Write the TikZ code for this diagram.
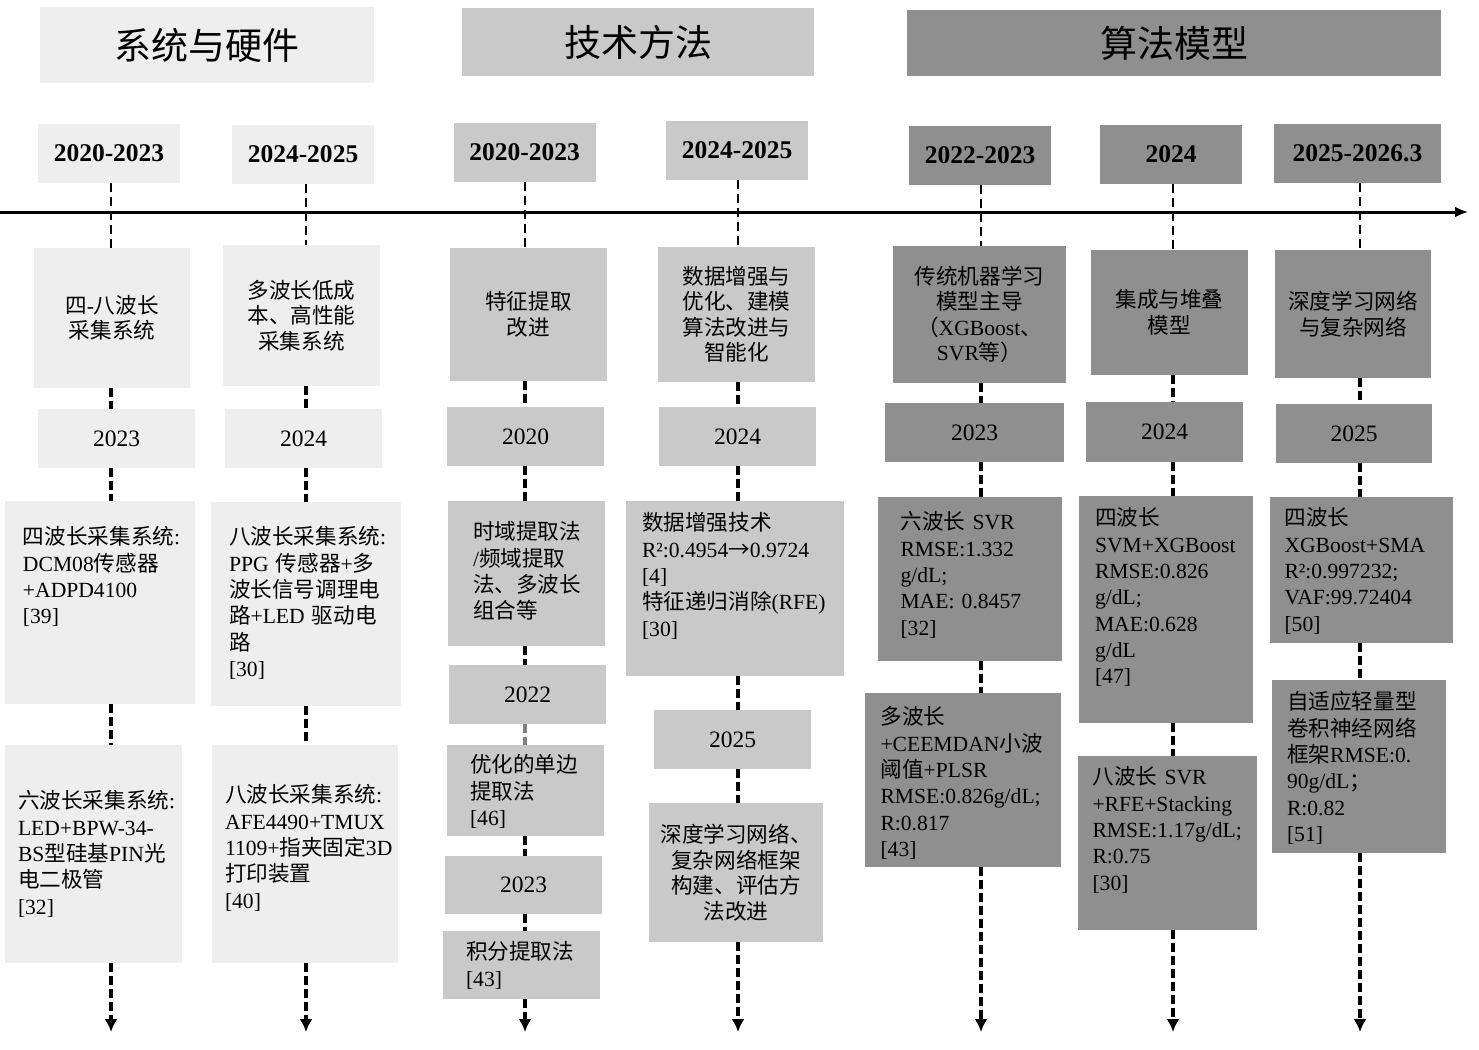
\documentclass[tikz,border=0pt]{standalone}
\usepackage{fontspec}
\setmainfont{Liberation Serif}
\newfontfamily\latfont{Liberation Serif}
\newfontfamily\cjkfont{Noto Sans CJK SC}
\usepackage{xcolor}
\usepackage{tikz}
\usetikzlibrary{arrows.meta,calc}

\definecolor{sysgray}{RGB}{238,238,238}
\definecolor{methgray}{RGB}{201,201,201}
\definecolor{algogray}{RGB}{143,143,143}

% Chinese characters are set in the CJK font, the rest in Liberation Serif
\XeTeXinterchartokenstate=1
\newXeTeXintercharclass\cjkclass
\newcount\charno
\charno=0
\loop\ifnum\charno<"3000 \XeTeXcharclass\charno=0 \advance\charno by 1 \repeat
\charno="3000
\loop\ifnum\charno<"A000 \XeTeXcharclass\charno=\cjkclass \advance\charno by 1 \repeat
\charno="FF00
\loop\ifnum\charno<"FFF0 \XeTeXcharclass\charno=\cjkclass \advance\charno by 1 \repeat
\XeTeXcharclass"2192=\cjkclass
\XeTeXinterchartoks 0 \cjkclass = {\cjkfont}
\XeTeXinterchartoks 4095 \cjkclass = {\cjkfont}
\XeTeXinterchartoks \cjkclass 0 = {\latfont}
\XeTeXinterchartoks \cjkclass 4095 = {\latfont}
\XeTeXinterchartoks 4095 0 = {\latfont}

\begin{document}
\begin{tikzpicture}[x=1pt,y=-1pt,
  head/.style={rectangle, inner sep=0pt, font=\fontsize{37}{40}\selectfont},
  datebox/.style={rectangle, inner sep=0pt, minimum width=142pt, minimum height=59pt, font=\fontsize{25.5}{28}\selectfont\bfseries},
  yearbox/.style={rectangle, inner sep=0pt, minimum width=157pt, minimum height=59pt, font=\fontsize{23.5}{26}\selectfont},
  topbox/.style={rectangle, inner sep=0pt, align=center, font=\fontsize{21.6}{25.5}\selectfont},
  infobox/.style={rectangle, inner sep=0pt},
  infotext/.style={anchor=base west, inner sep=0pt, text width=190pt, align=left, font=\fontsize{21.6}{26.3}\selectfont},
  timeline/.style={line width=3pt, -{Latex[length=13pt,width=11pt]}},
  guide/.style={line width=1.7pt, dash pattern=on 9pt off 5pt},
  link/.style={line width=3.2pt, dash pattern=on 9pt off 4pt},
  ongoing/.style={link, -{Latex[length=13pt,width=13pt]}}]
\useasboundingbox (0,0) rectangle (1479,1049);

% Category headers
\node[head, fill=sysgray, minimum width=334pt, minimum height=76pt] (sysh) at (207,45) {系统与硬件};
\node[head, fill=methgray, minimum width=352pt, minimum height=68pt] (methh) at (638,42) {技术方法};
\node[head, fill=algogray, minimum width=534pt, minimum height=66pt] (algoh) at (1174,43) {算法模型};

% Periods
\node[datebox, fill=sysgray] (d1) at (109,153.5) {2020-2023};
\node[datebox, fill=sysgray] (d2) at (303,154.5) {2024-2025};
\node[datebox, fill=methgray] (d3) at (524.5,152.5) {2020-2023};
\node[datebox, fill=methgray] (d4) at (737,150) {2024-2025};
\node[datebox, fill=algogray] (d5) at (980,155) {2022-2023};
\node[datebox, fill=algogray] (d6) at (1171,154.5) {2024};
\node[datebox, fill=algogray, minimum width=167pt] (d7) at (1357.5,153.5) {2025-2026.3};

% Time axis
\coordinate (tl0) at (0,212);
\coordinate (tl1) at (1468,212);
\draw[timeline] (tl0) -- (tl1);

% Column ends
\coordinate (e1) at (111,1032);
\coordinate (e2) at (306,1032);
\coordinate (e3) at (525,1032);
\coordinate (e4) at (738,1032);
\coordinate (e5) at (981,1032);
\coordinate (e6) at (1173,1032);
\coordinate (e7) at (1360,1032);

% Topics
\node[topbox, fill=sysgray, minimum width=156pt, minimum height=140pt] (t1) at (112,318) {四-八波长\\采集系统};
\node[topbox, fill=sysgray, minimum width=157pt, minimum height=141pt] (t2) at (301.5,315.5) {多波长低成\\本、高性能\\采集系统};
\node[topbox, fill=methgray, minimum width=157pt, minimum height=133pt] (t3) at (528.5,314.5) {特征提取\\改进};
\node[topbox, fill=methgray, minimum width=157pt, minimum height=135pt] (t4) at (736.5,314.5) {数据增强与\\优化、建模\\算法改进与\\智能化};
\node[topbox, fill=algogray, minimum width=173pt, minimum height=137pt] (t5) at (979.5,314.5) {传统机器学习\\模型主导\\（XGBoost、\\SVR等）};
\node[topbox, fill=algogray, minimum width=157pt, minimum height=125pt] (t6) at (1169.5,312.5) {集成与堆叠\\模型};
\node[topbox, fill=algogray, minimum width=156pt, minimum height=128pt] (t7) at (1353,314) {深度学习网络\\与复杂网络};

% Years
\node[yearbox, fill=sysgray] (y1) at (116.5,438.5) {2023};
\node[yearbox, fill=sysgray] (y2) at (303.5,438.5) {2024};
\node[yearbox, fill=methgray] (y3a) at (525.5,436.5) {2020};
\node[yearbox, fill=methgray] (y3b) at (527.5,694.5) {2022};
\node[yearbox, fill=methgray, minimum height=58pt] (y3c) at (523.5,885) {2023};
\node[yearbox, fill=methgray] (y4a) at (737.5,436.5) {2024};
\node[yearbox, fill=methgray] (y4b) at (732.5,739.5) {2025};
\node[yearbox, fill=algogray, minimum width=179pt] (y5) at (974.5,432.5) {2023};
\node[yearbox, fill=algogray, minimum height=60pt] (y6) at (1164.5,432) {2024};
\node[yearbox, fill=algogray, minimum width=156pt] (y7) at (1354,433.5) {2025};

% System and hardware
\node[infobox, fill=sysgray, minimum width=190pt, minimum height=203pt] (s1a) at (100,602.5) {};
\node[infotext] (s1at) at ($(s1a.north west)+(18,44)$) {四波长采集系统:\\DCM08传感器\\+ADPD4100\\{[39]}};
\node[infobox, fill=sysgray, minimum width=177pt, minimum height=218pt] (s1b) at (93.5,854) {};
\node[infotext] (s1bt) at ($(s1b.north west)+(13,64)$) {六波长采集系统:\\LED+BPW-34-\\BS型硅基PIN光\\电二极管\\{[32]}};
\node[infobox, fill=sysgray, minimum width=190pt, minimum height=204pt] (s2a) at (306,604) {};
\node[infotext] (s2at) at ($(s2a.north west)+(18,43)$) {八波长采集系统:\\PPG 传感器+多\\波长信号调理电\\路+LED 驱动电\\路\\{[30]}};
\node[infobox, fill=sysgray, minimum width=186pt, minimum height=218pt] (s2b) at (305,854) {};
\node[infotext] (s2bt) at ($(s2b.north west)+(13,58)$) {八波长采集系统:\\AFE4490+TMUX\\1109+指夹固定3D\\打印装置\\{[40]}};

% Methods
\node[infobox, fill=methgray, minimum width=157pt, minimum height=145pt] (s3a) at (526.5,573.5) {};
\node[infotext] (s3at) at ($(s3a.north west)+(25,39)$) {时域提取法\\/频域提取\\法、多波长\\组合等};
\node[infobox, fill=methgray, minimum width=157pt, minimum height=91pt] (s3b) at (525.5,790.5) {};
\node[infotext] (s3bt) at ($(s3b.north west)+(23,28)$) {优化的单边\\提取法\\{[46]}};
\node[infobox, fill=methgray, minimum width=157pt, minimum height=68pt] (s3c) at (521.5,965) {};
\node[infotext] (s3ct) at ($(s3c.north west)+(23,29)$) {积分提取法\\{[43]}};
\node[infobox, fill=methgray, minimum width=218pt, minimum height=175pt] (s4a) at (735,588.5) {};
\node[infotext] (s4at) at ($(s4a.north west)+(16,30)$) {数据增强技术\\R²:0.4954→0.9724\\{[4]}\\特征递归消除(RFE)\\{[30]}};
\node[topbox, fill=methgray, minimum width=174pt, minimum height=139pt] (s4b) at (736,872.5) {深度学习网络、\\复杂网络框架\\构建、评估方\\法改进};

% Algorithms
\node[infobox, fill=algogray, minimum width=184pt, minimum height=164pt] (s5a) at (970,579) {};
\node[infotext] (s5at) at ($(s5a.north west)+(22.5,33)$) {六波长\latfont\ SVR\\RMSE:1.332\\g/dL;\\MAE: 0.8457\\{[32]}};
\node[infobox, fill=algogray, minimum width=196pt, minimum height=174pt] (s5b) at (963,780) {};
\node[infotext] (s5bt) at ($(s5b.north west)+(15.5,32)$) {多波长\\+CEEMDAN小波\\阈值+PLSR\\RMSE:0.826g/dL;\\R:0.817\\{[43]}};
\node[infobox, fill=algogray, minimum width=173.5pt, minimum height=227pt] (s6a) at (1165.75,609.5) {};
\node[infotext] (s6at) at ($(s6a.north west)+(16,30)$) {四波长\\SVM+XGBoost\\RMSE:0.826\\g/dL;\\MAE:0.628\\g/dL\\{[47]}};
\node[infobox, fill=algogray, minimum width=179pt, minimum height=174pt] (s6b) at (1167,843) {};
\node[infotext] (s6bt) at ($(s6b.north west)+(15,29)$) {八波长\latfont\ SVR\\+RFE+Stacking\\RMSE:1.17g/dL;\\R:0.75\\{[30]}};
\node[infobox, fill=algogray, minimum width=183pt, minimum height=146pt] (s7a) at (1361,570) {};
\node[infotext] (s7at) at ($(s7a.north west)+(15,29)$) {四波长\\XGBoost+SMA\\R²:0.997232;\\VAF:99.72404\\{[50]}};
\node[infobox, fill=algogray, minimum width=174pt, minimum height=173pt] (s7b) at (1358.5,766.5) {};
\node[infotext] (s7bt) at ($(s7b.north west)+(15.5,30)$) {自适应轻量型\\卷积神经网络\\框架RMSE:0.\\90g/dL；\\R:0.82\\{[51]}};

% Column 1
\draw[guide] (d1.south -| e1) -- (t1.north -| e1);
\draw[link] (t1.south -| e1) -- (y1.north -| e1);
\draw[link] (y1.south -| e1) -- (s1a.north -| e1);
\draw[link] (s1a.south -| e1) -- (s1b.north -| e1);
\draw[ongoing] (s1b.south -| e1) -- (e1);

% Column 2
\draw[guide] (d2.south -| e2) -- (t2.north -| e2);
\draw[link] (t2.south -| e2) -- (y2.north -| e2);
\draw[link] (y2.south -| e2) -- (s2a.north -| e2);
\draw[link] (s2a.south -| e2) -- (s2b.north -| e2);
\draw[ongoing] (s2b.south -| e2) -- (e2);

% Column 3
\draw[guide] (d3.south -| e3) -- (t3.north -| e3);
\draw[link] (t3.south -| e3) -- (y3a.north -| e3);
\draw[link] (y3a.south -| e3) -- (s3a.north -| e3);
\draw[link] (s3a.south -| e3) -- (y3b.north -| e3);
\draw[link, draw=gray] (y3b.south -| e3) -- (s3b.north -| e3);
\draw[link] (s3b.south -| e3) -- (y3c.north -| e3);
\draw[link] (y3c.south -| e3) -- (s3c.north -| e3);
\draw[ongoing] (s3c.south -| e3) -- (e3);

% Column 4
\draw[guide] (d4.south -| e4) -- (t4.north -| e4);
\draw[link] (t4.south -| e4) -- (y4a.north -| e4);
\draw[link] (y4a.south -| e4) -- (s4a.north -| e4);
\draw[link] (s4a.south -| e4) -- (y4b.north -| e4);
\draw[link] (y4b.south -| e4) -- (s4b.north -| e4);
\draw[ongoing] (s4b.south -| e4) -- (e4);

% Column 5
\draw[guide] (d5.south -| e5) -- (t5.north -| e5);
\draw[link] (t5.south -| e5) -- (y5.north -| e5);
\draw[link] (y5.south -| e5) -- (s5a.north -| e5);
\draw[link] (s5a.south -| e5) -- (s5b.north -| e5);
\draw[ongoing] (s5b.south -| e5) -- (e5);

% Column 6
\draw[guide] (d6.south -| e6) -- (t6.north -| e6);
\draw[link] (t6.south -| e6) -- (y6.north -| e6);
\draw[link] (y6.south -| e6) -- (s6a.north -| e6);
\draw[link] (s6a.south -| e6) -- (s6b.north -| e6);
\draw[ongoing] (s6b.south -| e6) -- (e6);

% Column 7
\draw[guide] (d7.south -| e7) -- (t7.north -| e7);
\draw[link] (t7.south -| e7) -- (y7.north -| e7);
\draw[link] (y7.south -| e7) -- (s7a.north -| e7);
\draw[link] (s7a.south -| e7) -- (s7b.north -| e7);
\draw[ongoing] (s7b.south -| e7) -- (e7);

\end{tikzpicture}
\end{document}
